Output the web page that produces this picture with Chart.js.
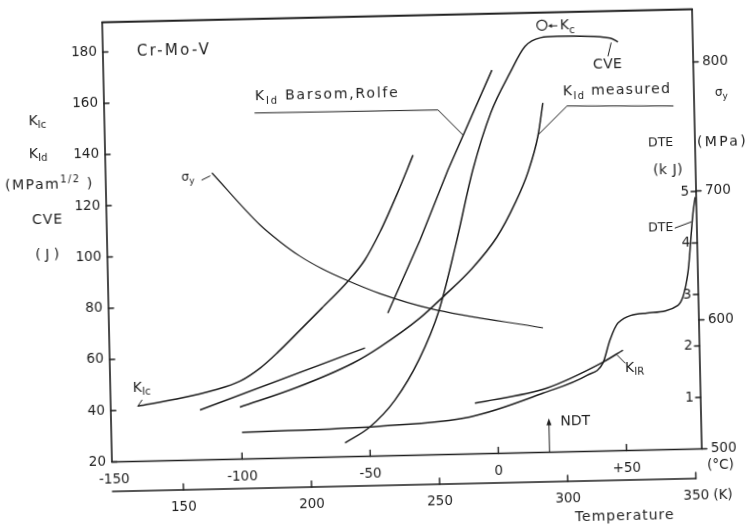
<!DOCTYPE html>
<html>
<head>
<meta charset="utf-8">
<title>Cr-Mo-V</title>
<style>
  html, body { margin: 0; padding: 0; background: #fff; overflow: hidden; }
  /* the scanned figure is slightly tilted, so the canvas is too */
  #myChart { display: block; transform: rotate(-1.27deg); transform-origin: 401px 235.75px; }
</style>
</head>
<body>
<canvas id="myChart" width="753" height="530"></canvas>
<script src="https://cdn.jsdelivr.net/npm/chart.js@4.4.1/dist/chart.umd.min.js"></script>
<script>
// tick labels
const cTicks = [-150, -100, -50, 0, 50];
const cLabels = ['-150', '-100', '-50', '0', '+50'];
const kTicks = [150, 200, 250, 300, 350];
const leftTicks = [20, 40, 60, 80, 100, 120, 140, 160, 180];
const mpaTicks = [500, 600, 700, 800];
const dteTicks = [1, 2, 3, 4, 5];

// temperature in °C, values on the left scale (MPa m^1/2 or J)
const kIcT = [-140.2, -125, -110, -100, -92, -85, -76.3, -67.6, -57.6, -50.5, -44.2, -37.3, -30.7];
const kIcV = [41.6, 44.0, 47.2, 50.5, 55.5, 61.5, 69.8, 78.2, 88.0, 96.5, 107.5, 122.0, 137.1];

// K_Id after Barsom-Rolfe, two straight parts
const brLowT = [-116.0, -51.1];
const brLowV = [39.5, 62.3];
const brHighT = [-41.9, -28.7, -17.2, 0.8];
const brHighV = [75.7, 103.9, 131.0, 169.6];

// K_Id measured
const kIdT = [-100.4, -78, -55.9, -45.3, -29.4, -19.5, -9, 1.3, 8.7, 14.0, 18.2, 20.4];
const kIdV = [40.3, 47.5, 56.5, 62.5, 73.5, 82.2, 92.0, 104.4, 117.5, 129.5, 143.5, 156.3];

// Charpy energy CVE (J)
const cveT = [-59.7, -49.9, -40, -30, -22, -15, -7.5, 0, 7.8, 13.9, 20, 26.5, 47.1, 50.2];
const cveV = [25.4, 31.4, 41.5, 57.5, 76.0, 101.0, 130.8, 153.0, 168.3, 178.5, 181.8, 182.2, 181.1, 179.5];

// K_IR
const kIrT = [-8.7, 19.5, 41.6, 49.5];
const kIrV = [39.8, 45.1, 54.7, 59.2];

// K_c point
const kcT = 20.7;
const kcV = 186.7;

// dynamic tear energy DTE (kJ)
const dteT = [-99.8, -46.0, -10.8, 17.9, 35.3, 41.6, 44.5, 47.8, 59.2, 71.4, 75.5, 78.0, 79.0];
const dteV = [0.52, 0.58, 0.72, 1.15, 1.48, 1.71, 2.15, 2.48, 2.66, 2.80, 3.42, 4.58, 4.89];

// yield stress (MPa)
const sigT = [-109.3, -91.0, -83.4, -75.7, -67.0, -58.3, -44.8, -25.4, 18.5];
const sigV = [722.3, 681.2, 667.9, 656.3, 645.9, 637.4, 625.9, 613.5, 596.5];

const ndtT = 20;

const xMin = -150.8, xMax = 79.4;
const INK = '#1e1e1e';
const FONT = '"DejaVu Sans", sans-serif';

function txt(ctx, s, x, y, o = {}) {
  ctx.save();
  ctx.font = (o.size || 14) + 'px ' + FONT;
  ctx.letterSpacing = (o.sp || 0) + 'px';
  ctx.fillStyle = INK;
  ctx.textAlign = o.align || 'left';
  ctx.textBaseline = 'middle';
  ctx.fillText(s, x, y);
  ctx.restore();
}

// parts: [text, level] with level 1 = subscript, -1 = superscript
function rich(ctx, parts, x, y, o = {}) {
  const size = o.size || 14, small = Math.round(size * 0.72);
  ctx.save();
  ctx.fillStyle = INK;
  ctx.textBaseline = 'middle';
  ctx.textAlign = 'left';
  ctx.letterSpacing = (o.sp || 0) + 'px';
  const setF = lv => { ctx.font = (lv ? small : size) + 'px ' + FONT; };
  let w = 0;
  parts.forEach(([s, lv]) => { setF(lv); w += ctx.measureText(s).width; });
  let cx = o.align === 'center' ? x - w / 2 : o.align === 'right' ? x - w : x;
  parts.forEach(([s, lv]) => {
    setF(lv);
    ctx.fillText(s, cx, y + lv * size * 0.32);
    cx += ctx.measureText(s).width;
  });
  ctx.restore();
}

const paperAxes = {
  id: 'paperAxes',
  afterDraw(chart) {
    const { ctx, chartArea: a } = chart;
    const { x, xk, y, ys, yd } = chart.scales;
    const line = (pts, w) => {
      ctx.beginPath();
      ctx.lineWidth = w || 1;
      pts.forEach(([px, py], i) => i ? ctx.lineTo(px, py) : ctx.moveTo(px, py));
      ctx.stroke();
    };
    ctx.save();
    ctx.strokeStyle = INK;
    ctx.fillStyle = INK;
    ctx.lineCap = 'round';

    // frame
    line([[a.left, a.top], [a.left, a.bottom], [a.right, a.bottom], [a.right, a.top]], 1.6);
    line([[a.left, a.top], [a.right, a.top]], 2);

    // left scale
    leftTicks.forEach(v => {
      const py = y.getPixelForValue(v);
      line([[a.left, py], [a.left + 5, py]], 1.4);
      txt(ctx, String(v), a.left - 6, py, { align: 'right', size: 13.5 });
    });

    // temperature °C
    cTicks.forEach((t, i) => {
      const px = x.getPixelForValue(t);
      if (i) line([[px, a.bottom], [px, a.bottom - 6]], 1.4);
      txt(ctx, cLabels[i], px, a.bottom + 17.5, { align: 'center', size: 13.5 });
    });
    txt(ctx, '(°C)', a.right + 5, a.bottom + 17.3, { size: 13.5 });

    // temperature K
    const kY = a.bottom + 29.5;
    line([[a.left, kY], [xk.getPixelForValue(350), kY]], 1.6);
    kTicks.forEach((k, i) => {
      const px = xk.getPixelForValue(k);
      line([[px, kY], [px, kY - 6]], 1.4);
      txt(ctx, String(k), px, kY + 17, { align: 'center', size: 13.5 });
      if (i === kTicks.length - 1) txt(ctx, '(K)', px + 17, kY + 17, { size: 13.5 });
    });
    txt(ctx, 'Temperature', 568.7, 521.5, { sp: 1 });

    // right scales
    mpaTicks.forEach(v => {
      const py = ys.getPixelForValue(v);
      line([[a.right, py], [a.right + 5, py]], 1.4);
      txt(ctx, String(v), a.right + 9, py, { size: 13.5 });
    });
    dteTicks.forEach(v => {
      const py = yd.getPixelForValue(v);
      line([[a.right - 5, py], [a.right, py]], 1.4);
      txt(ctx, String(v), a.right - 7, py, { align: 'right', size: 13.5 });
    });
    rich(ctx, [['σ', 0], ['y', 1]], 718, 100, { size: 12 });
    txt(ctx, 'DTE', 650, 148.5, { size: 12.5 });
    txt(ctx, '(MPa)', 699, 149.5, { sp: 2.3 });
    txt(ctx, '(k J)', 654.4, 176.6, { sp: 0.5 });

    // left titles
    rich(ctx, [['K', 0], ['Ic', 1]], 40, 113, { align: 'center' });
    rich(ctx, [['K', 0], ['Id', 1]], 40, 146, { align: 'center' });
    rich(ctx, [['(MPam', 0], ['1/2', -1], [' )', 0]], 50.6, 177, { align: 'center', sp: 1.5 });
    txt(ctx, 'CVE', 48, 212, { align: 'center', sp: 1 });
    txt(ctx, '( J )', 47, 247, { align: 'center' });

    // notes in the plot
    txt(ctx, 'Cr-Mo-V', 141, 46, { size: 15, sp: 2.3 });

    rich(ctx, [['K', 0], ['Id', 1], [' Barsom,Rolfe', 0]], 258, 93.5, { sp: 1.8 });
    line([[257.7, 109.8], [440.8, 110.8], [465.2, 136.4]], 1);

    rich(ctx, [['K', 0], ['Id', 1], [' measured', 0]], 566, 95.5, { sp: 1.3 });
    line([[675.9, 112], [569.9, 109.7], [540.2, 138]], 1);

    const kcx = x.getPixelForValue(kcT), kcy = y.getPixelForValue(kcV);
    line([[kcx + 8, kcy + 1], [kcx + 15, kcy + 1]], 1);
    ctx.beginPath();
    ctx.moveTo(kcx + 6, kcy + 1);
    ctx.lineTo(kcx + 10, kcy - 1);
    ctx.lineTo(kcx + 10, kcy + 3);
    ctx.closePath();
    ctx.fill();
    rich(ctx, [['K', 0], ['c', 1]], kcx + 18, kcy + 1.5, {});

    txt(ctx, 'CVE', 596.8, 69.3, { sp: 0.3 });
    line([[615.3, 47.7], [612, 60.6]], 1);

    rich(ctx, [['σ', 0], ['y', 1]], 189.3, 172.5, { size: 12, align: 'center' });
    line([[203.2, 175.6], [211.3, 171.8]], 1);

    rich(ctx, [['K', 0], ['Ic', 1]], 129.6, 382, {});
    line([[138.4, 394.3], [134.2, 400.2]], 1);

    rich(ctx, [['K', 0], ['IR', 1]], 622, 373, {});
    line([[614.4, 359.8], [622.2, 368]], 1);

    txt(ctx, 'DTE', 648.2, 233.5, { size: 12.5 });
    line([[675.2, 234.1], [691.3, 228.4]], 1);

    const nx = x.getPixelForValue(ndtT);
    line([[nx, a.bottom], [nx, a.bottom - 29]], 1);
    ctx.beginPath();
    ctx.moveTo(nx, a.bottom - 34);
    ctx.lineTo(nx - 2.5, a.bottom - 27);
    ctx.lineTo(nx + 2.5, a.bottom - 27);
    ctx.closePath();
    ctx.fill();
    txt(ctx, 'NDT', nx + 11.5, 425.5, {});

    ctx.restore();
  }
};

const pts = (ts, vs) => ts.map((t, i) => ({ x: t, y: vs[i] }));
const curve = (data, yAxisID, extra) => Object.assign({
  data, yAxisID,
  borderColor: INK, borderWidth: 1.5, pointRadius: 0,
  cubicInterpolationMode: 'monotone', fill: false
}, extra || {});
const straight = { cubicInterpolationMode: 'default', tension: 0 };

const ctx = document.getElementById('myChart').getContext('2d');

const chart = new Chart(ctx, {
  type: 'line',
  data: {
    datasets: [
      curve(pts(kIcT, kIcV), 'y'),
      curve(pts(brLowT, brLowV), 'y', straight),
      curve(pts(brHighT, brHighV), 'y', straight),
      curve(pts(kIdT, kIdV), 'y'),
      curve(pts(cveT, cveV), 'y'),
      curve(pts(kIrT, kIrV), 'y'),
      curve(pts(dteT, dteV), 'yd'),
      curve(pts(sigT, sigV), 'ys', { borderWidth: 1.2 }),
      {
        data: [{ x: kcT, y: kcV }], yAxisID: 'y', showLine: false,
        pointRadius: 5, pointBackgroundColor: '#fff',
        pointBorderColor: INK, pointBorderWidth: 1.2
      }
    ]
  },
  options: {
    responsive: false,
    animation: false,
    devicePixelRatio: 1,
    layout: { padding: { left: 107, right: 56, top: 15.75, bottom: 74.5 } },
    plugins: { legend: { display: false }, tooltip: { enabled: false } },
    scales: {
      x: { type: 'linear', min: xMin, max: xMax, display: false },
      xk: { type: 'linear', position: 'bottom', min: xMin + 273.15, max: xMax + 273.15, display: false },
      y: { type: 'linear', min: 20, max: 191.6, display: false },
      ys: { type: 'linear', position: 'right', min: 500, max: 840.9, display: false },
      yd: { type: 'linear', position: 'right', min: 0, max: 8.54, display: false }
    }
  },
  plugins: [paperAxes]
});
</script>
</body>
</html>
